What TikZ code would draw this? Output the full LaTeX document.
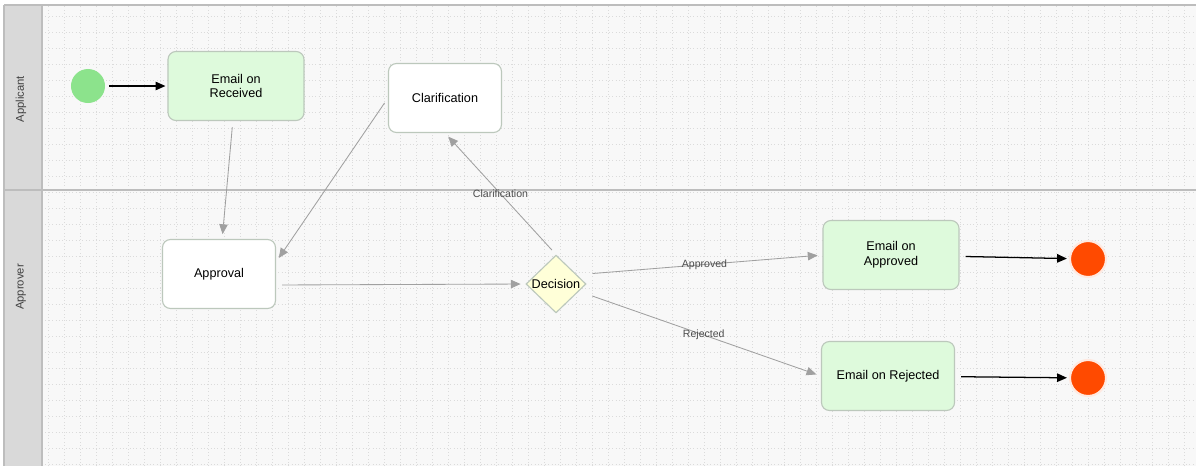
\documentclass[tikz,border=0pt]{standalone}
\usepackage{fontspec}
\setmainfont{Liberation Sans}
\usetikzlibrary{shapes.geometric,arrows.meta}

\definecolor{lanegray}{HTML}{D9D9D9}
\definecolor{laneline}{HTML}{BDBDBD}
\definecolor{paper}{HTML}{F8F8F8}
\definecolor{mailgreen}{HTML}{DEFADC}
\definecolor{boxline}{HTML}{BCC8BC}
\definecolor{startgreen}{HTML}{8CE38C}
\definecolor{endred}{HTML}{FF4A00}
\definecolor{decyellow}{HTML}{FFFFD8}
\definecolor{flowgray}{HTML}{A0A0A0}

\begin{document}
\begin{tikzpicture}[x=0.025cm,y=-0.025cm,
    task/.style={draw=boxline, line width=0.8pt, rounded corners=0.2cm,
        minimum width=3.4cm, minimum height=1.725cm, align=center,
        font=\fontsize{9}{10.5}\selectfont},
    mail/.style={task, fill=mailgreen},
    plain/.style={task, fill=white},
    decide/.style={diamond, draw=boxline, fill=decyellow, line width=0.8pt,
        aspect=1, minimum width=1.5cm, inner sep=0pt, font=\fontsize{9}{10.5}\selectfont},
    begin/.style={circle, fill=startgreen, minimum size=0.85cm, inner sep=0pt},
    finish/.style={circle, fill=endred, draw=endred!12, line width=1.5pt,
        minimum size=0.9cm, inner sep=0pt},
    flow/.style={draw=flowgray, line width=0.6pt, -{Triangle[length=7pt,width=6pt]},
        shorten <=0.15cm, shorten >=0.12cm},
    strong/.style={draw=black, line width=0.9pt, -{Triangle[length=7pt,width=6pt]}},
    lbl/.style={midway, font=\fontsize{7.5}{9}\selectfont, text=black!70},
    lanetext/.style={rotate=90, font=\fontsize{8}{9}\selectfont, text=black!75}]

    \useasboundingbox (0,0) rectangle (1196,468);

    % lanes
    \fill[paper] (42,5) rectangle (1196,466);
    \draw[step=0.4cm, black!14, dotted] (42,5) grid (1196,466);
    \fill[lanegray] (4,5) rectangle (42,466);
    \draw[laneline, line width=0.8pt] (4,5) -- (1196,5);
    \draw[laneline, line width=0.8pt] (4,190) -- (1196,190);
    \draw[laneline, line width=0.8pt] (42,5) -- (42,466);
    \draw[laneline, line width=0.8pt] (4,5) -- (4,466);
    \node[lanetext] (applicant) at (21,99) {Applicant};
    \node[lanetext] (approver) at (21,287) {Approver};

    % states
    \node[begin] (start) at (88,86) {};
    \node[mail] (received) at (236,86) {Email on\\Received};
    \node[plain, minimum width=2.825cm] (clar) at (445,98) {Clarification};
    \node[plain, minimum width=2.825cm] (approval) at (219,274) {Approval};
    \node[decide] (decision) at (556,284) {Decision};
    \node[mail] (approved) at (891,255) {Email on\\Approved};
    \node[mail, minimum width=3.325cm] (rejected) at (888,376) {Email on Rejected};
    \node[finish] (end1) at (1088,259) {};
    \node[finish] (end2) at (1088,378) {};

    % transitions
    \draw[strong, shorten <=0.1cm, shorten >=0.05cm] (start) -- (received);
    \draw[flow] (received) -- (approval);
    \draw[flow] (clar.west) -- ([yshift=0.3cm]approval.east);
    \draw[flow] ([yshift=-0.275cm]approval.east) -- (decision.west);
    \draw[flow] (decision.north) -- node[lbl] {Clarification} (clar.south);
    \draw[flow] ([yshift=0.25cm]decision.east) -- node[lbl] {Approved} (approved.west);
    \draw[flow] ([yshift=-0.25cm]decision.east) -- node[lbl] {Rejected} (rejected.west);
    \draw[strong, shorten <=0.15cm, shorten >=0.05cm] (approved) -- (end1);
    \draw[strong, shorten <=0.15cm, shorten >=0.05cm] (rejected) -- (end2);
\end{tikzpicture}
\end{document}
